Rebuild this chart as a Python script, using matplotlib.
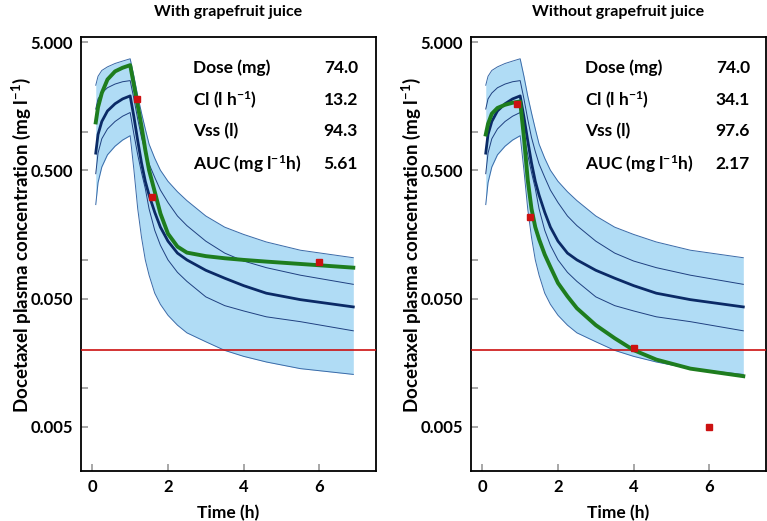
import matplotlib
matplotlib.use('Agg')
import matplotlib.pyplot as plt
from matplotlib.ticker import NullLocator, FixedLocator, FixedFormatter

# ---------------- data ----------------
time_h = [0.09, 0.15, 0.25, 0.4, 0.6, 0.8, 1.0, 1.1, 1.2, 1.3, 1.4, 1.5, 1.65,
          1.8, 2.0, 2.25, 2.5, 3.0, 3.5, 4.0, 4.6, 5.5, 6.9]
p05 = [0.27, 0.40, 0.53, 0.66, 0.77, 0.86, 0.93, 0.50, 0.25, 0.15, 0.10, 0.076,
       0.055, 0.045, 0.037, 0.031, 0.027, 0.023, 0.0197, 0.0177, 0.016, 0.0142, 0.0128]
p25 = [0.47, 0.68, 0.88, 1.05, 1.20, 1.32, 1.41, 0.95, 0.66, 0.48, 0.36, 0.25,
       0.17, 0.13, 0.10, 0.08, 0.068, 0.0515, 0.044, 0.040, 0.036, 0.033, 0.028]
p50 = [0.68, 0.95, 1.20, 1.45, 1.65, 1.80, 1.90, 1.30, 0.85, 0.57, 0.41, 0.32,
       0.235, 0.18, 0.14, 0.113, 0.10, 0.083, 0.072, 0.063, 0.055, 0.049, 0.043]
p75 = [1.50, 1.80, 2.00, 2.20, 2.35, 2.45, 2.50, 1.80, 1.25, 0.90, 0.70, 0.56,
       0.44, 0.35, 0.28, 0.22, 0.185, 0.14, 0.113, 0.098, 0.087, 0.076, 0.0645]
p95 = [2.30, 2.70, 3.00, 3.20, 3.40, 3.55, 3.70, 2.70, 1.90, 1.40, 1.05, 0.80,
       0.62, 0.50, 0.41, 0.34, 0.29, 0.22, 0.18, 0.158, 0.138, 0.119, 0.104]
ind_with = [1.18, 1.55, 2.00, 2.55, 2.95, 3.15, 3.30, 2.30, 1.60, 1.10, 0.72, 0.50,
            0.34, 0.23, 0.16, 0.127, 0.114, 0.107, 0.103, 0.100, 0.097, 0.093, 0.087]
ind_without = [0.95, 1.15, 1.38, 1.53, 1.62, 1.68, 1.72, 0.90, 0.42, 0.25, 0.18, 0.145,
               0.11, 0.088, 0.066, 0.052, 0.042, 0.031, 0.0245, 0.0198, 0.0167, 0.0142, 0.0124]
obs_t_with = [1.17, 1.57, 6.0]
obs_c_with = [1.79, 0.307, 0.096]
obs_t_without = [0.92, 1.25, 4.0, 6.0]
obs_c_without = [1.63, 0.217, 0.0204, 0.005]
lloq = 0.02

panel_titles = ['With grapefruit juice', 'Without grapefruit juice']
param_names = ['Dose (mg)', 'Cl (l h$^{-1}$)', 'Vss (l)', 'AUC (mg l$^{-1}$h)']
param_with = ['74.0', '13.2', '94.3', '5.61']
param_without = ['74.0', '34.1', '97.6', '2.17']
ytick_vals = [5, 1, 0.5, 0.1, 0.05, 0.01, 0.005]
ytick_labels = ['5.000', '', '0.500', '', '0.050', '', '0.005']
xtick_vals = [0, 2, 4, 6]
xtick_labels = ['0', '2', '4', '6']
ylabel = 'Docetaxel plasma concentration (mg l$^{-1}$)'
xlabel = 'Time (h)'

# ---------------- style ----------------
WT = 'bold'
plt.rcParams['font.family'] = ['Lato', 'DejaVu Sans']
plt.rcParams['font.weight'] = WT
plt.rcParams['mathtext.fontset'] = 'custom'
plt.rcParams['mathtext.rm'] = 'Lato:bold'
plt.rcParams['mathtext.it'] = 'Lato:bold'
plt.rcParams['mathtext.bf'] = 'Lato:bold'
plt.rcParams['mathtext.default'] = 'bf'

W, H = 767, 521
fig = plt.figure(figsize=(W / 100, H / 100), dpi=100)

band_col = '#b0dcf5'
edge_col = '#3a6aa8'
inner_col = '#1f4080'
med_col = '#0b2a66'
green = '#1e7d1e'
red = '#cc1111'

lefts = [81, 471]
panels = [(ind_with, obs_t_with, obs_c_with, param_with),
          (ind_without, obs_t_without, obs_c_without, param_without)]
label_x = [0.38, 0.386]
value_x = [0.939, 0.946]
row_y = [0.929, 0.855, 0.783, 0.707]

for i, (ind, ot, oc, pvals) in enumerate(panels):
    ax = fig.add_axes([lefts[i] / W, (H - 471) / H, 295 / W, 434 / H])
    ax.set_yscale('log')
    ax.fill_between(time_h, p05, p95, color=band_col, lw=0, zorder=1)
    ax.plot(time_h, p05, color=edge_col, lw=0.7, zorder=2)
    ax.plot(time_h, p95, color=edge_col, lw=0.7, zorder=2)
    ax.plot(time_h, p25, color=inner_col, lw=0.7, zorder=2)
    ax.plot(time_h, p75, color=inner_col, lw=0.7, zorder=2)
    ax.plot(time_h, p50, color=med_col, lw=2.0, zorder=3)
    ax.plot(time_h, ind, color=green, lw=2.8, zorder=4, solid_joinstyle='round')
    ax.plot(ot, oc, 's', color=red, ms=5, mec=red, zorder=5, clip_on=False)
    ax.axhline(lloq, color=red, lw=1.2, zorder=3)

    ax.set_xlim(-0.3, 7.5)
    ax.set_ylim(0.00226, 5.47)
    ax.yaxis.set_major_locator(FixedLocator(ytick_vals))
    ax.yaxis.set_major_formatter(FixedFormatter(ytick_labels))
    ax.yaxis.set_minor_locator(NullLocator())
    ax.set_xticks(xtick_vals)
    ax.set_xticklabels(xtick_labels)
    ax.tick_params(direction='in', color='#a0a0a0', length=5, width=1.3,
                   labelsize=12, pad=6)
    for lab in ax.get_xticklabels() + ax.get_yticklabels():
        lab.set_fontweight(WT)
    for sp in ax.spines.values():
        sp.set_linewidth(1.3)
        sp.set_color('black')

    ax.set_title(panel_titles[i], fontsize=11.5, fontweight=WT, pad=15)
    ax.set_xlabel(xlabel, fontsize=12.5, fontweight=WT, labelpad=7)
    ax.set_ylabel(ylabel, fontsize=13.5, fontweight=WT)
    ax.yaxis.set_label_coords(-0.163, 0.52)

    for j in range(4):
        ax.text(label_x[i], row_y[j], param_names[j], transform=ax.transAxes,
                fontsize=12.5, fontweight=WT, ha='left', va='center')
        ax.text(value_x[i], row_y[j], pvals[j], transform=ax.transAxes,
                fontsize=12.5, fontweight=WT, ha='right', va='center')

fig.savefig('out.png', dpi=100)
